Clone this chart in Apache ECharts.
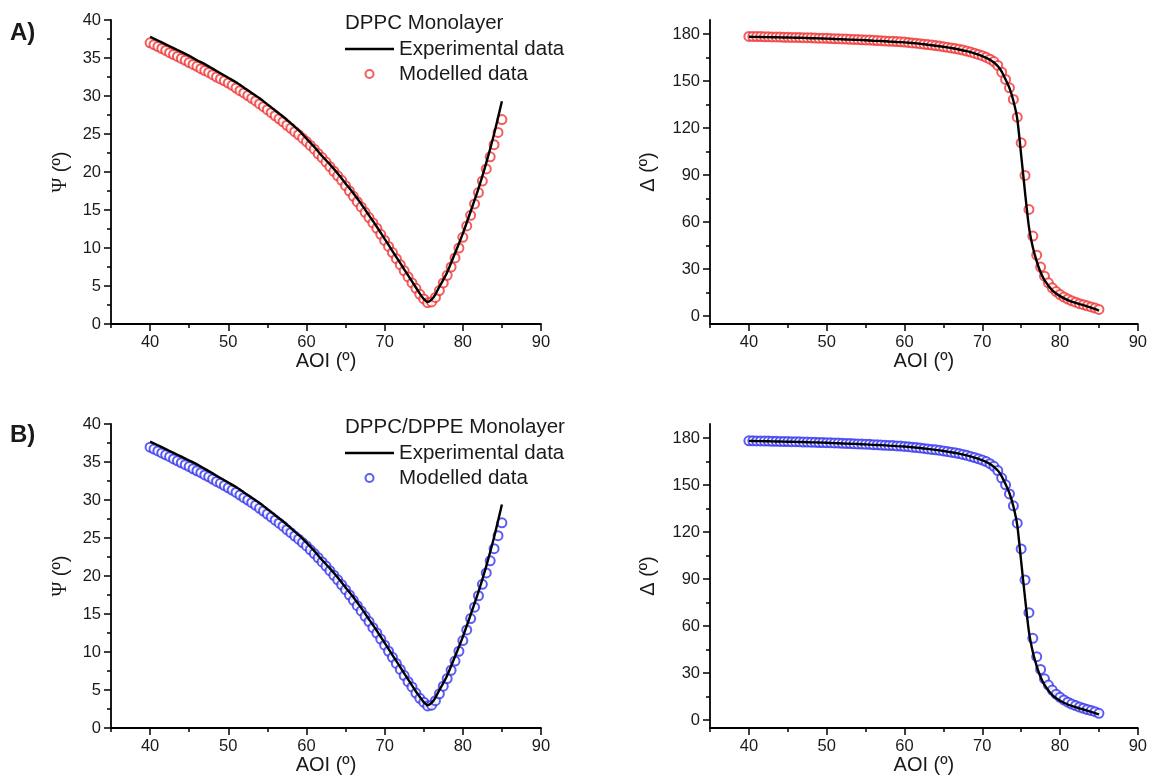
<!DOCTYPE html>
<html>
<head>
<meta charset="utf-8">
<title>Ellipsometry DPPC</title>
<script src="https://cdn.jsdelivr.net/npm/echarts@6/dist/echarts.min.js"></script>
<style>
  html, body { margin: 0; padding: 0; background: #fff; }
  #main { width: 1150px; height: 779px; }
</style>
</head>
<body>
<div id="main"></div>
<script>
// angle of incidence of the modelled points (every 0.5 deg)
const aoiFine = [40, 40.5, 41, 41.5, 42, 42.5, 43, 43.5, 44, 44.5, 45, 45.5, 46, 46.5, 47, 47.5, 48, 48.5, 49, 49.5,
  50, 50.5, 51, 51.5, 52, 52.5, 53, 53.5, 54, 54.5, 55, 55.5, 56, 56.5, 57, 57.5, 58, 58.5, 59, 59.5,
  60, 60.5, 61, 61.5, 62, 62.5, 63, 63.5, 64, 64.5, 65, 65.5, 66, 66.5, 67, 67.5, 68, 68.5, 69, 69.5,
  70, 70.5, 71, 71.5, 72, 72.5, 73, 73.5, 74, 74.5, 75, 75.5, 76, 76.5, 77, 77.5, 78, 78.5, 79, 79.5,
  80, 80.5, 81, 81.5, 82, 82.5, 83, 83.5, 84, 84.5, 85];
// angle of incidence of the experimental curve
const aoiExp = [40, 41, 42, 43, 44, 45, 46, 47, 48, 49, 50, 51, 52, 53, 54, 55, 56, 57, 58, 59,
  60, 61, 62, 63, 64, 65, 66, 67, 68, 69, 70, 71, 72, 72.5, 73, 73.5, 74, 74.5, 75, 75.5,
  76, 76.5, 77, 77.5, 78, 79, 80, 81, 82, 83, 84, 85];

// A) DPPC monolayer
const psiModA = [37.0, 36.75, 36.5, 36.25, 36.0, 35.7, 35.45, 35.2, 34.95, 34.7, 34.4, 34.15, 33.9, 33.6, 33.35, 33.1, 32.8, 32.5, 32.25, 32.0,
  31.7, 31.4, 31.05, 30.7, 30.4, 30.05, 29.7, 29.35, 28.95, 28.6, 28.2, 27.8, 27.4, 27.0, 26.6, 26.15, 25.75, 25.3, 24.9, 24.45,
  24.0, 23.5, 23.0, 22.4, 21.9, 21.3, 20.7, 20.1, 19.5, 18.9, 18.2, 17.5, 16.8, 16.1, 15.4, 14.7, 14.0, 13.3, 12.6, 11.8,
  11.0, 10.2, 9.4, 8.6, 7.8, 7.0, 6.2, 5.4, 4.7, 3.9, 3.3, 2.8, 2.9, 3.5, 4.4, 5.4, 6.4, 7.5, 8.7, 10.0,
  11.4, 12.9, 14.3, 15.8, 17.3, 18.8, 20.4, 22.0, 23.6, 25.2, 26.9];
const psiExpA = [37.8, 37.3, 36.8, 36.3, 35.8, 35.3, 34.7, 34.2, 33.6, 33.0, 32.4, 31.8, 31.1, 30.4, 29.7, 28.9, 28.1, 27.3, 26.4, 25.5,
  24.4, 23.3, 22.1, 21.0, 19.8, 18.5, 17.2, 15.8, 14.3, 12.8, 11.2, 9.6, 8.0, 7.2, 6.4, 5.6, 4.8, 4.0, 3.3, 2.9,
  3.2, 3.9, 4.9, 5.8, 6.8, 9.3, 11.9, 14.8, 17.8, 21.2, 25.0, 29.3];
const deltaModA = [178.5, 178.5, 178.4, 178.4, 178.3, 178.3, 178.2, 178.2, 178.1, 178.0, 178.0, 177.9, 177.9, 177.8, 177.7, 177.7, 177.6, 177.5, 177.4, 177.4,
  177.3, 177.2, 177.1, 177.0, 176.9, 176.8, 176.7, 176.6, 176.5, 176.4, 176.3, 176.2, 176.0, 175.9, 175.8, 175.6, 175.5, 175.4, 175.2, 175.1,
  174.9, 174.7, 174.4, 174.2, 173.9, 173.6, 173.3, 173.0, 172.7, 172.4, 172.0, 171.6, 171.2, 170.8, 170.3, 169.8, 169.2, 168.5, 167.8, 167.0,
  166.2, 165.2, 164.0, 162.5, 160.0, 155.7, 151.1, 145.7, 138.3, 127.0, 110.6, 89.8, 68.1, 51.1, 38.9, 31.3, 25.5, 21.3, 18.1, 15.7,
  13.8, 12.2, 10.9, 9.8, 8.9, 8.0, 7.3, 6.6, 5.9, 5.2, 4.3];
const deltaExpA = [178.3, 178.2, 178.1, 178.0, 177.9, 177.8, 177.7, 177.6, 177.4, 177.3, 177.1, 176.9, 176.7, 176.5, 176.3, 176.1, 175.8, 175.6, 175.3, 175.0,
  174.7, 174.3, 173.8, 173.2, 172.6, 171.9, 171.1, 170.2, 169.1, 167.7, 166.0, 163.6, 159.6, 156.0, 151.0, 145.5, 137.5, 126.0, 103.0, 79.0,
  57.0, 44.0, 35.0, 28.0, 23.0, 16.5, 12.8, 10.3, 8.5, 7.0, 5.4, 3.6];

// B) DPPC/DPPE monolayer
const psiModB = [36.95, 36.7, 36.45, 36.2, 35.95, 35.7, 35.4, 35.15, 34.9, 34.65, 34.4, 34.1, 33.85, 33.6, 33.3, 33.05, 32.75, 32.45, 32.2, 31.9,
  31.6, 31.3, 31.0, 30.65, 30.3, 30.0, 29.65, 29.3, 28.9, 28.55, 28.15, 27.75, 27.35, 26.95, 26.55, 26.1, 25.7, 25.25, 24.85, 24.4,
  23.95, 23.45, 22.95, 22.4, 21.85, 21.3, 20.7, 20.1, 19.5, 18.85, 18.2, 17.5, 16.8, 16.1, 15.4, 14.7, 14.0, 13.2, 12.5, 11.7,
  10.9, 10.1, 9.3, 8.5, 7.7, 6.9, 6.1, 5.4, 4.6, 3.9, 3.4, 2.9, 3.0, 3.6, 4.5, 5.5, 6.5, 7.6, 8.8, 10.1,
  11.5, 12.9, 14.4, 15.9, 17.4, 18.9, 20.4, 22.0, 23.6, 25.3, 27.0];
const psiExpB = [37.7, 37.2, 36.7, 36.2, 35.7, 35.2, 34.7, 34.1, 33.5, 32.9, 32.3, 31.7, 31.0, 30.3, 29.6, 28.8, 28.0, 27.2, 26.3, 25.4,
  24.4, 23.3, 22.1, 21.0, 19.8, 18.5, 17.2, 15.8, 14.3, 12.8, 11.2, 9.6, 8.0, 7.2, 6.4, 5.6, 4.8, 4.1, 3.4, 3.0,
  3.3, 4.0, 5.0, 5.9, 6.9, 9.4, 12.0, 14.9, 17.9, 21.3, 25.1, 29.4];
const deltaModB = [178.3, 178.3, 178.2, 178.2, 178.1, 178.1, 178.0, 178.0, 177.9, 177.8, 177.8, 177.7, 177.7, 177.6, 177.5, 177.5, 177.4, 177.3, 177.2, 177.2,
  177.1, 177.0, 176.9, 176.8, 176.7, 176.6, 176.5, 176.4, 176.3, 176.2, 176.1, 176.0, 175.8, 175.7, 175.6, 175.4, 175.3, 175.2, 175.0, 174.9,
  174.7, 174.5, 174.2, 174.0, 173.7, 173.4, 173.1, 172.8, 172.5, 172.2, 171.8, 171.4, 171.0, 170.6, 170.1, 169.6, 169.0, 168.3, 167.6, 166.8,
  166.0, 165.0, 163.7, 162.0, 159.3, 154.5, 150.2, 144.4, 136.8, 125.7, 109.3, 89.5, 68.6, 52.2, 40.5, 32.4, 26.4, 22.4, 19.2, 16.6,
  14.6, 12.9, 11.5, 10.3, 9.3, 8.4, 7.6, 6.8, 6.1, 5.4, 4.4];
const deltaExpB = [178.2, 178.1, 178.0, 177.9, 177.8, 177.7, 177.6, 177.5, 177.3, 177.2, 177.0, 176.8, 176.6, 176.4, 176.2, 176.0, 175.7, 175.5, 175.2, 174.9,
  174.6, 174.2, 173.7, 173.1, 172.5, 171.8, 171.0, 170.1, 169.0, 167.6, 165.9, 163.4, 159.3, 155.6, 150.5, 144.8, 136.5, 124.5, 101.5, 78.0,
  56.5, 43.5, 34.5, 27.5, 22.5, 16.0, 12.4, 10.0, 8.3, 6.8, 5.3, 3.7];

// ticks and labels
const xMajor = [40, 50, 60, 70, 80, 90];
const xMinor = [35, 45, 55, 65, 75, 85];
const deltaMajor = [0, 30, 60, 90, 120, 150, 180];
const deltaMinor = [15, 45, 75, 105, 135, 165];

const FONT = 'Liberation Sans, Arial, sans-serif';
const INK = '#1a1a1a';
const RED = '#f03535';
const BLUE = '#3535f0';

function pairs(xs, ys) {
  return xs.map(function (x, i) { return [x, ys[i]]; });
}

function xMain(g) {
  return {
    type: 'value', gridIndex: g, min: 35, max: 90,
    name: 'AOI (º)', nameLocation: 'middle', nameGap: 27,
    nameTextStyle: { fontSize: 20, color: INK, fontFamily: FONT },
    axisLine: { show: true, onZero: false, lineStyle: { color: '#000', width: 1.8 } },
    axisTick: { show: true, length: 7, customValues: xMajor, lineStyle: { color: '#000', width: 1.5 } },
    axisLabel: { customValues: xMajor, fontSize: 16.5, color: INK, fontFamily: FONT, margin: 10 },
    splitLine: { show: false }
  };
}
function xMinorAxis(g) {
  return {
    type: 'value', gridIndex: g, min: 35, max: 90, position: 'bottom', offset: 0,
    axisLine: { show: false, onZero: false },
    axisTick: { show: true, length: 4, customValues: xMinor, lineStyle: { color: '#000', width: 1.5 } },
    axisLabel: { show: false },
    splitLine: { show: false }
  };
}
function yPsi(g) {
  return {
    type: 'value', gridIndex: g, min: 0, max: 40, interval: 5,
    name: '{g|Ψ} (º)', nameLocation: 'middle', nameGap: 40,
    nameTextStyle: { fontSize: 20, color: INK, fontFamily: FONT, rich: { g: { fontSize: 20, fontFamily: 'Liberation Serif, serif', color: INK } } },
    axisLine: { show: true, onZero: false, lineStyle: { color: '#000', width: 1.8 } },
    axisTick: { show: true, length: 7, lineStyle: { color: '#000', width: 1.5 } },
    minorTick: { show: true, splitNumber: 2, length: 4, lineStyle: { color: '#000', width: 1.5 } },
    axisLabel: { fontSize: 16.5, color: INK, fontFamily: FONT, margin: 10 },
    splitLine: { show: false }
  };
}
function yDelta(g) {
  return {
    type: 'value', gridIndex: g, min: -5, max: 189, position: 'left',
    name: 'Δ (º)', nameLocation: 'middle', nameGap: 52,
    nameTextStyle: { fontSize: 20, color: INK, fontFamily: FONT },
    axisLine: { show: true, onZero: false, lineStyle: { color: '#000', width: 1.8 } },
    axisTick: { show: true, length: 7, customValues: deltaMajor, lineStyle: { color: '#000', width: 1.5 } },
    axisLabel: { customValues: deltaMajor, fontSize: 16.5, color: INK, fontFamily: FONT, margin: 10 },
    splitLine: { show: false }
  };
}
function yDeltaMinor(g) {
  return {
    type: 'value', gridIndex: g, min: -5, max: 189, position: 'left', offset: 0,
    axisLine: { show: false, onZero: false },
    axisTick: { show: true, length: 4, customValues: deltaMinor, lineStyle: { color: '#000', width: 1.5 } },
    axisLabel: { show: false },
    splitLine: { show: false }
  };
}

function scatter(name, xi, yi, xs, ys, color) {
  return {
    name: name, type: 'scatter', xAxisIndex: xi, yAxisIndex: yi,
    symbol: 'emptyCircle', symbolSize: 9,
    itemStyle: { color: color, borderColor: color, borderWidth: 1.1 },
    data: pairs(xs, ys), z: 2
  };
}
function expLine(name, xi, yi, xs, ys) {
  return {
    name: name, type: 'line', xAxisIndex: xi, yAxisIndex: yi,
    symbol: 'none', smooth: 0.2,
    itemStyle: { color: '#000' },
    lineStyle: { color: '#000', width: 2.4 },
    data: pairs(xs, ys), z: 3
  };
}

function legendAt(top, prefix) {
  return {
    orient: 'vertical', left: 345, top: top, padding: 0,
    itemWidth: 49, itemHeight: 8, itemGap: 3,
    data: [
      { name: prefix + '|Experimental data', icon: 'path://M0,0 L100,0 L100,5 L0,5 Z' },
      { name: prefix + '|Modelled data' }
    ],
    formatter: function (n) { return n.split('|')[1]; },
    textStyle: { fontSize: 20.5, color: INK, fontFamily: FONT, lineHeight: 22 },
    selectedMode: false
  };
}

const chart = echarts.init(document.getElementById('main'));
chart.setOption({
  animation: false,
  backgroundColor: '#fff',
  title: [
    { text: 'A)', left: 10, top: 21, padding: 0, textStyle: { fontSize: 24, fontWeight: 'bold', color: INK, fontFamily: FONT } },
    { text: 'DPPC Monolayer', left: 345, top: 13, padding: 0, textStyle: { fontSize: 20.5, fontWeight: 'normal', color: INK, fontFamily: FONT } },
    { text: 'B)', left: 10, top: 423, padding: 0, textStyle: { fontSize: 24, fontWeight: 'bold', color: INK, fontFamily: FONT } },
    { text: 'DPPC/DPPE Monolayer', left: 345, top: 417, padding: 0, textStyle: { fontSize: 20.5, fontWeight: 'normal', color: INK, fontFamily: FONT } }
  ],
  legend: [legendAt(38, 'A'), legendAt(442, 'B')],
  grid: [
    { left: 111, top: 20, width: 430, height: 304 },
    { left: 710, top: 20, width: 430, height: 304 },
    { left: 111, top: 424, width: 430, height: 304 },
    { left: 710, top: 424, width: 430, height: 304 }
  ],
  xAxis: [xMain(0), xMinorAxis(0), xMain(1), xMinorAxis(1), xMain(2), xMinorAxis(2), xMain(3), xMinorAxis(3)],
  yAxis: [yPsi(0), yDelta(1), yDeltaMinor(1), yPsi(2), yDelta(3), yDeltaMinor(3)],
  series: [
    scatter('A|Modelled data', 0, 0, aoiFine, psiModA, RED),
    expLine('A|Experimental data', 0, 0, aoiExp, psiExpA),
    scatter('A|Modelled data', 2, 1, aoiFine, deltaModA, RED),
    expLine('A|Experimental data', 2, 1, aoiExp, deltaExpA),
    scatter('B|Modelled data', 4, 3, aoiFine, psiModB, BLUE),
    expLine('B|Experimental data', 4, 3, aoiExp, psiExpB),
    scatter('B|Modelled data', 6, 4, aoiFine, deltaModB, BLUE),
    expLine('B|Experimental data', 6, 4, aoiExp, deltaExpB)
  ]
});
</script>
</body>
</html>
